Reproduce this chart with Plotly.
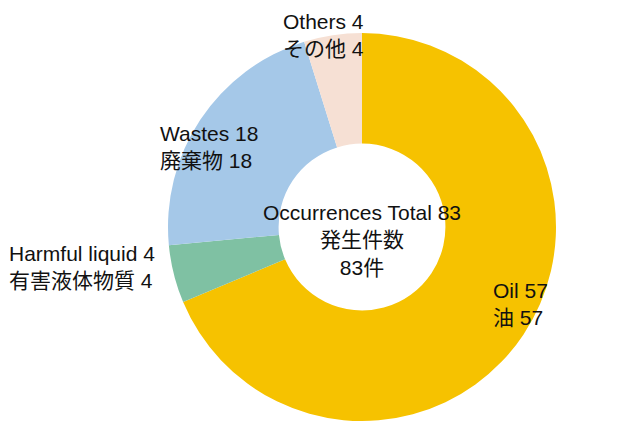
import plotly.graph_objects as go

# occurrences by type, clockwise from 12 o'clock
types_en = ['Oil', 'Harmful liquid', 'Wastes', 'Others']
types_ja = ['油', '有害液体物質', '廃棄物', 'その他']
counts = [57, 4, 18, 4]
colors = ['#F6C200', '#7FC1A3', '#A5C8E8', '#F6E0D4']
total_en = 'Occurrences Total'
total_ja = '発生件数'

W, H = 625, 423
OFF = 8  # page body margin shifts the plot
FONT = 'Liberation Sans, Arial, Noto Sans CJK JP, sans-serif'


def px_x(x):
  return (x - OFF) / W


def px_y(y):
  return 1 - (y - OFF) / H


# pie circle: centre (362, 227), radius ~194 px
cx, cy, r = 362, 227, 194
fig = go.Figure(go.Pie(
    labels=types_en, values=counts, sort=False, direction='clockwise', rotation=0,
    hole=0.43, textinfo='none', marker=dict(colors=colors, line=dict(width=0)),
    domain=dict(x=[px_x(cx - r), px_x(cx + r)], y=[px_y(cy + r), px_y(cy - r)]),
    showlegend=False))

# label placement (left/right anchor, pixel position)
label_pos = {
    'Oil': (491, 304, 'left'),
    'Harmful liquid': (7, 267, 'left'),
    'Wastes': (158, 147, 'left'),
    'Others': (366, 35, 'right'),
}
for en, ja, n in zip(types_en, types_ja, counts):
  x, y, anchor = label_pos[en]
  fig.add_annotation(x=px_x(x), y=px_y(y), xref='paper', yref='paper', xanchor=anchor, yanchor='middle',
                     align=anchor, showarrow=False, text=f'{en} {n}<br>{ja} {n}')

total = sum(counts)
fig.add_annotation(x=px_x(362), y=px_y(240), xref='paper', yref='paper', xanchor='center', yanchor='middle',
                   align='center', showarrow=False, text=f'{total_en} {total}<br>{total_ja}<br>{total}件')

fig.update_layout(width=W, height=H, margin=dict(l=0, r=0, t=0, b=0),
                  paper_bgcolor='white', plot_bgcolor='white',
                  font=dict(family=FONT, size=21, color='#111111'))

fig.write_html('out.html')
